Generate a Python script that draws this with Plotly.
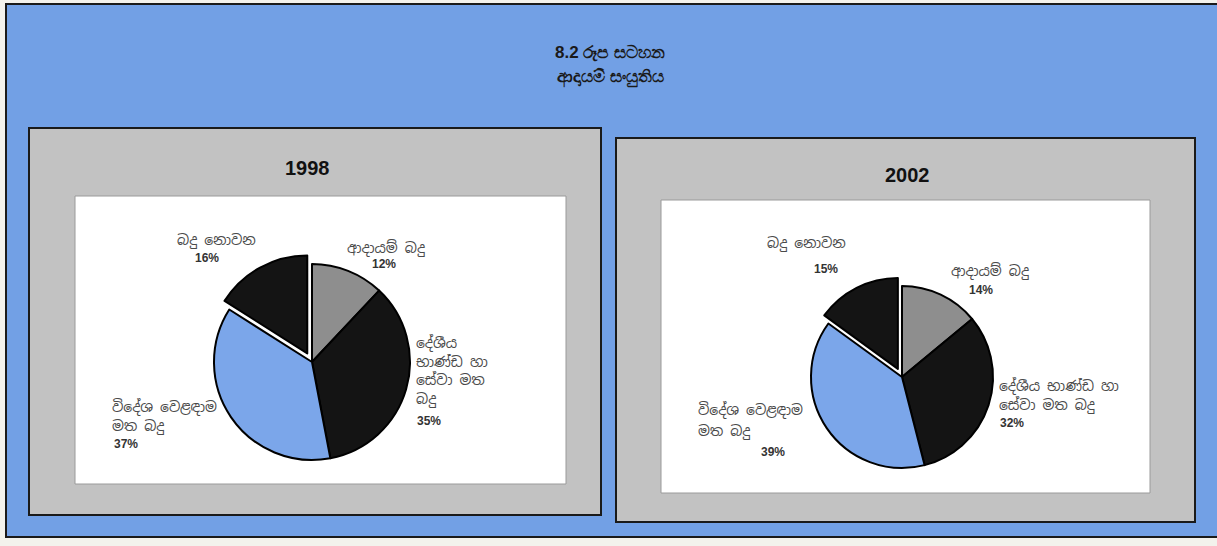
import plotly.graph_objects as go

# Revenue composition, two years
years = ["1998", "2002"]
categories = ["ආදායම් බදු", "දේශීය භාණ්ඩ හා සේවා මත බදු", "විදේශ වෙළඳාම මත බදු", "බදු නොවන"]
shares_1998 = [12, 35, 37, 16]
shares_2002 = [14, 32, 39, 15]
title_lines = ["8.2 රූප සටහන", "ආදායම් සංයුතිය"]

W, H = 1217, 546
slice_colors = ["#8e8e8e", "#141414", "#7ba6ea", "#141414"]
pulls = [0, 0, 0, 0.1]
SIN = "Noto Sans Sinhala, Iskoola Pota, Liberation Sans, sans-serif"
ARIAL = "Liberation Sans, Arial, sans-serif"


def px(x):
    return x / W


def py(y):
    return 1 - y / H


def pie_domain(cx, cy, r, maxpull):
    half = r * (1 + maxpull)
    return dict(x=[px(cx - half), px(cx + half)], y=[py(cy + half), py(cy - half)])


fig = go.Figure()

for vals, (cx, cy, r) in [(shares_1998, (312, 362, 98)), (shares_2002, (902, 377, 91))]:
    fig.add_trace(go.Pie(
        labels=categories, values=vals, sort=False, direction="clockwise", rotation=0,
        pull=pulls, textinfo="none", hoverinfo="label+percent", showlegend=False,
        marker=dict(colors=slice_colors, line=dict(color="#000000", width=2)),
        domain=pie_domain(cx, cy, r, max(pulls)),
    ))

shapes = []


def rect(x0, y0, x1, y1, fill, line_color="#1a1a1a", lw=2):
    shapes.append(dict(type="rect", xref="paper", yref="paper",
                       x0=px(x0), x1=px(x1), y0=py(y1), y1=py(y0),
                       fillcolor=fill, line=dict(color=line_color, width=lw), layer="below"))


# page background and panels
rect(-5, -5, W + 5, H + 5, "#f3f2ec", lw=0)
rect(6, 4, W + 10, 537, "#72a0e5")
rect(29, 128, 601, 515, "#c2c2c2")
rect(616, 138, 1195, 522, "#c2c2c2")
rect(75, 196, 566, 484, "#ffffff", line_color="#9a9a9a", lw=1)
rect(661, 200, 1150, 493, "#ffffff", line_color="#9a9a9a", lw=1)

annotations = []


def label(x, y, text, size=14, font=SIN, color="#4a4a4a", xanchor="center", bold=False):
    if bold:
        text = "<b>" + text + "</b>"
    annotations.append(dict(x=px(x), y=py(y), xref="paper", yref="paper", text=text,
                            showarrow=False, xanchor=xanchor, yanchor="middle",
                            font=dict(family=font, size=size, color=color)))


def pct(x, y, v, xanchor="center"):
    label(x, y, f"{v}%", size=12, font=ARIAL, color="#333333", xanchor=xanchor, bold=True)


def lines(x, y0, step, texts, xanchor="left"):
    for i, t in enumerate(texts):
        label(x, y0 + i * step, t, xanchor=xanchor)


label(610, 53, title_lines[0], size=17, font=ARIAL, color="#1a1a1a", bold=True)
label(610, 78, title_lines[1], size=17, font=ARIAL, color="#1a1a1a", bold=True)
label(307, 168, years[0], size=20, font=ARIAL, color="#111111", bold=True)
label(907, 175, years[1], size=20, font=ARIAL, color="#111111", bold=True)

# 1998 labels
label(216, 240, "බදු නොවන")
pct(207, 258, shares_1998[3])
label(386, 248, "ආදායම් බදු")
pct(384, 264, shares_1998[0])
lines(414, 343, 18.5, ["දේශීය", "භාණ්ඩ හා", "සේවා මත", "බදු"])
pct(415, 421, shares_1998[1], xanchor="left")
lines(110, 407, 19, ["විදේශ වෙළඳාම", "මත බදු"])
pct(112, 444, shares_1998[2], xanchor="left")

# 2002 labels
label(806, 243, "බදු නොවන")
pct(826, 269, shares_2002[3])
label(990, 271, "ආදායම් බදු")
pct(981, 290, shares_2002[0])
lines(997, 386, 19, ["දේශීය භාණ්ඩ හා", "සේවා මත බදු"])
pct(998, 423, shares_2002[1], xanchor="left")
lines(696, 410, 21, ["විදේශ වෙළඳාම", "මත බදු"])
pct(773, 452, shares_2002[2])

fig.update_layout(
    width=W, height=H, margin=dict(l=0, r=0, t=0, b=0),
    paper_bgcolor="#f3f2ec", plot_bgcolor="#f3f2ec",
    shapes=shapes, annotations=annotations,
)

fig.write_html("out.html")
